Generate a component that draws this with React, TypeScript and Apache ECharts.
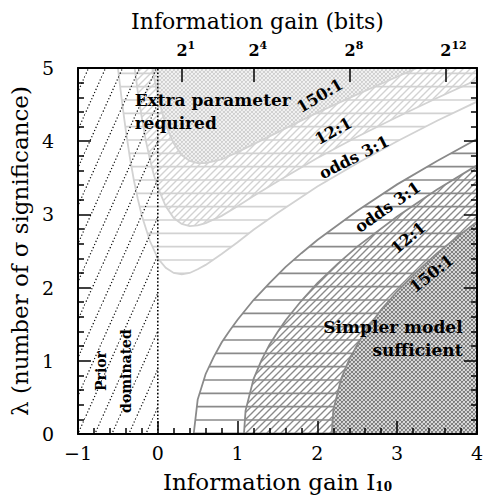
import React, { useEffect, useRef } from 'react';
import * as echarts from 'echarts';

const FONT = '"DejaVu Serif", serif';

// Top axis: information gain in bits, ticks at 2^n
const topBitExponents = [1, 4, 8, 12];

// Region boundaries: [I10, lambda]
// "Extra parameter required" side (B10 >= odds)
const upper3: number[][] = [[-0.5, 5.0], [-0.45, 4.55], [-0.4, 4.14], [-0.35, 3.78], [-0.3, 3.47], [-0.25, 3.21], [-0.2, 2.98], [-0.1, 2.64], [0, 2.4], [0.1, 2.27], [0.2, 2.2], [0.3, 2.18], [0.4, 2.2], [0.5, 2.25], [0.6, 2.31], [0.8, 2.46], [1.0, 2.62], [1.2, 2.79], [1.5, 3.02], [2.0, 3.38], [2.5, 3.7], [3.0, 4.0], [3.5, 4.28], [4.0, 4.54]];
const upper12: number[][] = [[-0.29, 5.0], [-0.25, 4.67], [-0.2, 4.32], [-0.15, 4.01], [-0.1, 3.76], [-0.05, 3.54], [0, 3.37], [0.1, 3.11], [0.2, 2.95], [0.3, 2.87], [0.4, 2.84], [0.5, 2.85], [0.6, 2.88], [0.8, 2.98], [1.0, 3.11], [1.2, 3.25], [1.5, 3.45], [2.0, 3.77], [2.5, 4.06], [3.0, 4.33], [3.5, 4.59], [4.0, 4.84]];
const upper150: number[][] = [[-0.07, 5.0], [-0.03, 4.78], [0, 4.63], [0.05, 4.41], [0.1, 4.23], [0.15, 4.09], [0.2, 3.97], [0.3, 3.81], [0.4, 3.73], [0.5, 3.7], [0.6, 3.7], [0.8, 3.75], [1.0, 3.85], [1.5, 4.12], [2.0, 4.39], [2.5, 4.64], [3.0, 4.88], [3.25, 5.0]];
// "Simpler model sufficient" side (B01 >= odds)
const lower3: number[][] = [[0.45, 0], [0.5, 0.47], [0.6, 0.82], [0.7, 1.05], [0.8, 1.25], [0.9, 1.41], [1.0, 1.56], [1.2, 1.83], [1.4, 2.06], [1.6, 2.28], [1.8, 2.47], [2.0, 2.65], [2.5, 3.05], [3.0, 3.41], [3.5, 3.73], [4.0, 4.03]];
const lower12: number[][] = [[1.08, 0], [1.1, 0.32], [1.2, 0.75], [1.3, 1.01], [1.4, 1.22], [1.5, 1.39], [1.6, 1.55], [1.8, 1.82], [2.0, 2.06], [2.25, 2.32], [2.5, 2.56], [3.0, 2.97], [3.5, 3.34], [4.0, 3.67]];
const lower150: number[][] = [[2.18, 0], [2.2, 0.33], [2.3, 0.76], [2.4, 1.02], [2.5, 1.22], [2.6, 1.4], [2.8, 1.7], [3.0, 1.95], [3.25, 2.22], [3.5, 2.47], [3.75, 2.69], [4.0, 2.9]];
// Prior-dominated strip
const priorRegion: number[][] = [[-1, 0], [0, 0], [0, 5], [-1, 5]];
const priorEdge: number[][] = [[0, 0], [0, 5]];

// Annotations
const annTexts = ['Extra parameter\nrequired', 'Simpler model\nsufficient', 'Prior\ndominated', '150:1', '12:1', 'odds 3:1', 'odds 3:1', '12:1', '150:1'];
const annX = [-0.29, 3.82, -0.55, 2.03, 2.2, 2.46, 2.88, 3.14, 3.43];
const annY = [4.41, 1.3, 0.86, 4.62, 4.14, 3.78, 3.1, 2.68, 2.19];
const annAngle = [0, 0, 90, 31, 29, 27, 35, 40, 38];
const annAlign = ['left', 'right', 'center', 'center', 'center', 'center', 'center', 'center', 'center'];

function makeCanvas(w: number, h: number, draw: (c: CanvasRenderingContext2D) => void) {
  const c = document.createElement('canvas');
  c.width = w;
  c.height = h;
  const ctx = c.getContext('2d')!;
  draw(ctx);
  return c;
}
function pat(c: HTMLCanvasElement) {
  return { image: c, repeat: 'repeat', imageWidth: c.width, imageHeight: c.height } as any;
}

export default function App() {
  const ref = useRef<HTMLDivElement>(null);
  useEffect(() => {
    const LOW = '#8a8a8a';
    const HIGH = '#d2d2d2';
    const horiz = (col: string) =>
      pat(makeCanvas(10, 40, (ctx) => {
        ctx.strokeStyle = col;
        ctx.lineWidth = 1.7;
        ctx.beginPath();
        [6.67, 20, 33.33].forEach((y) => { ctx.moveTo(0, y); ctx.lineTo(10, y); });
        ctx.stroke();
      }));
    const diag = (col: string) =>
      pat(makeCanvas(7, 7, (ctx) => {
        ctx.strokeStyle = col;
        ctx.lineWidth = 1.4;
        ctx.beginPath();
        ctx.moveTo(-1, 8); ctx.lineTo(8, -1);
        ctx.moveTo(-2, 2); ctx.lineTo(2, -2);
        ctx.moveTo(5, 9); ctx.lineTo(9, 5);
        ctx.stroke();
      }));
    const cross = (col: string) =>
      pat(makeCanvas(4, 4, (ctx) => {
        ctx.fillStyle = '#fff';
        ctx.fillRect(0, 0, 4, 4);
        ctx.strokeStyle = col;
        ctx.lineWidth = 1.2;
        ctx.beginPath();
        ctx.moveTo(-1, 5); ctx.lineTo(5, -1);
        ctx.moveTo(-1, -1); ctx.lineTo(5, 5);
        ctx.moveTo(-1, 1); ctx.lineTo(1, -1);
        ctx.moveTo(3, 5); ctx.lineTo(5, 3);
        ctx.moveTo(3, -1); ctx.lineTo(5, 1);
        ctx.moveTo(-1, 3); ctx.lineTo(1, 5);
        ctx.stroke();
      }));
    const dotted = pat(makeCanvas(17, 38, (ctx) => {
      ctx.strokeStyle = '#000';
      ctx.lineWidth = 1.2;
      ctx.setLineDash([1.2, 2.2]);
      ctx.beginPath();
      ctx.moveTo(-17, 76); ctx.lineTo(34, -38);
      ctx.stroke();
    }));

    const region = (pts: number[][], corners: number[][], fill: any, stroke: string | null) => {
      const poly = pts.concat(corners);
      return {
        type: 'custom',
        coordinateSystem: 'cartesian2d',
        xAxisIndex: 0,
        yAxisIndex: 0,
        clip: true,
        silent: true,
        z: 1,
        data: poly,
        renderItem: (params: any, api: any) => {
          if (params.dataIndex !== 0) return null;
          const all = poly.map((p) => api.coord(p));
          const children: any[] = [
            { type: 'polygon', shape: { points: all }, style: { fill, stroke: 'none' } },
          ];
          if (stroke) {
            children.push({
              type: 'polyline',
              shape: { points: all.slice(0, pts.length) },
              style: { fill: 'none', stroke, lineWidth: 1.8 },
            });
          }
          return { type: 'group', children };
        },
      };
    };

    const topVals = topBitExponents.map((e) => e * Math.log10(2));

    const axisBase = {
      z: 10,
      axisLine: { show: true, onZero: false, lineStyle: { color: '#000', width: 2 } },
      splitLine: { show: false },
    };

    const option: any = {
      animation: false,
      backgroundColor: '#fff',
      grid: { left: 75, right: 2, top: 68, bottom: 67, containLabel: false },
      xAxis: [
        {
          ...axisBase,
          type: 'value',
          position: 'bottom',
          min: -1,
          max: 4,
          interval: 1,
          axisTick: { show: true, inside: true, length: 13, lineStyle: { color: '#000', width: 1.5 } },
          minorTick: { show: true, splitNumber: 5, length: 6, lineStyle: { color: '#000', width: 1.5 } },
          axisLabel: {
            color: '#000', fontFamily: FONT, fontSize: 19, margin: 9,
            formatter: (v: number) => (v < 0 ? '\u2212' + Math.abs(v) : String(v)),
          },
          name: 'Information gain I{sub|10}',
          nameLocation: 'middle',
          nameGap: 36,
          nameTextStyle: {
            color: '#000', fontFamily: FONT, fontSize: 23,
            rich: { sub: { fontFamily: FONT, fontSize: 12, fontWeight: 'bold', color: '#000', verticalAlign: 'bottom', lineHeight: 12 } },
          },
        },
        {
          ...axisBase,
          type: 'value',
          position: 'top',
          min: -1,
          max: 4,
          axisTick: { show: true, inside: true, length: 14, customValues: topVals, lineStyle: { color: '#000', width: 1.5 } },
          minorTick: { show: false },
          axisLabel: {
            customValues: topVals,
            margin: 8,
            formatter: (v: number) => {
              let i = 0;
              topVals.forEach((t, k) => { if (Math.abs(t - v) < Math.abs(topVals[i] - v)) i = k; });
              const e = topBitExponents[i];
              return `{${e >= 10 ? 'padL' : 'padS'}| }{b|2}{s|${e}}`;
            },
            rich: {
              padS: { width: 8, fontSize: 11 },
              padL: { width: 15, fontSize: 11 },
              b: { fontFamily: FONT, fontSize: 16, fontWeight: 'bold', color: '#000', lineHeight: 20 },
              s: { fontFamily: FONT, fontSize: 11, fontWeight: 'bold', color: '#000', verticalAlign: 'top', lineHeight: 12 },
            },
          },
          name: 'Information gain (bits)',
          nameLocation: 'middle',
          nameGap: 36,
          nameTextStyle: { color: '#000', fontFamily: FONT, fontSize: 22, padding: [0, 40, 0, 0] },
        },
      ],
      yAxis: [
        {
          ...axisBase,
          type: 'value',
          position: 'left',
          min: 0,
          max: 5,
          interval: 1,
          axisTick: { show: true, inside: true, length: 13, lineStyle: { color: '#000', width: 1.5 } },
          minorTick: { show: true, splitNumber: 5, length: 6, lineStyle: { color: '#000', width: 1.5 } },
          axisLabel: { color: '#000', fontFamily: FONT, fontSize: 19, margin: 24 },
          name: '\u03bb (number of \u03c3 significance)',
          nameLocation: 'middle',
          nameRotate: 90,
          nameGap: 46,
          nameTextStyle: { color: '#000', fontFamily: FONT, fontSize: 23 },
        },
        {
          ...axisBase,
          type: 'value',
          position: 'right',
          min: 0,
          max: 5,
          interval: 1,
          axisTick: { show: true, inside: true, length: 13, lineStyle: { color: '#000', width: 1.5 } },
          minorTick: { show: true, splitNumber: 5, length: 6, lineStyle: { color: '#000', width: 1.5 } },
          axisLabel: { show: false },
        },
      ],
      series: [
        region(upper3, [[4, 5]], horiz(HIGH), HIGH),
        region(upper12, [[4, 5]], diag(HIGH), HIGH),
        region(upper150, [], cross('#d0d0d0'), HIGH),
        region(lower3, [[4, 0]], horiz(LOW), LOW),
        region(lower12, [[4, 0]], diag(LOW), LOW),
        region(lower150, [[4, 0]], cross('#7c7c7c'), LOW),
        region(priorRegion, [], dotted, null),
        {
          type: 'line',
          data: priorEdge,
          symbol: 'none',
          silent: true,
          z: 1,
          lineStyle: { color: '#000', width: 1.6, type: [1.6, 2] },
        },
        {
          type: 'custom',
          coordinateSystem: 'cartesian2d',
          silent: true,
          z: 12,
          data: annX.map((x, i) => [x, annY[i]]),
          renderItem: (params: any, api: any) => {
            const i = params.dataIndex;
            const p = api.coord([api.value(0), api.value(1)]);
            return {
              type: 'text',
              x: p[0],
              y: p[1],
              rotation: (annAngle[i] * Math.PI) / 180,
              style: {
                text: annTexts[i],
                font: `bold ${i === 2 ? 14 : i < 2 ? 17 : 16}px ${FONT}`,
                fill: '#000',
                align: annAlign[i],
                verticalAlign: 'middle',
                textAlign: annAlign[i],
                textVerticalAlign: 'middle',
                lineHeight: i === 2 ? 25 : 23,
              },
            };
          },
        },
      ],
    };

    const chart = echarts.init(ref.current!, null, { renderer: 'svg' });
    chart.setOption(option);
    return () => chart.dispose();
  }, []);
  return (
    <div
      ref={ref}
      style={{ position: 'fixed', left: 0, top: 0, width: 486, height: 501, background: '#fff' }}
    />
  );
}
